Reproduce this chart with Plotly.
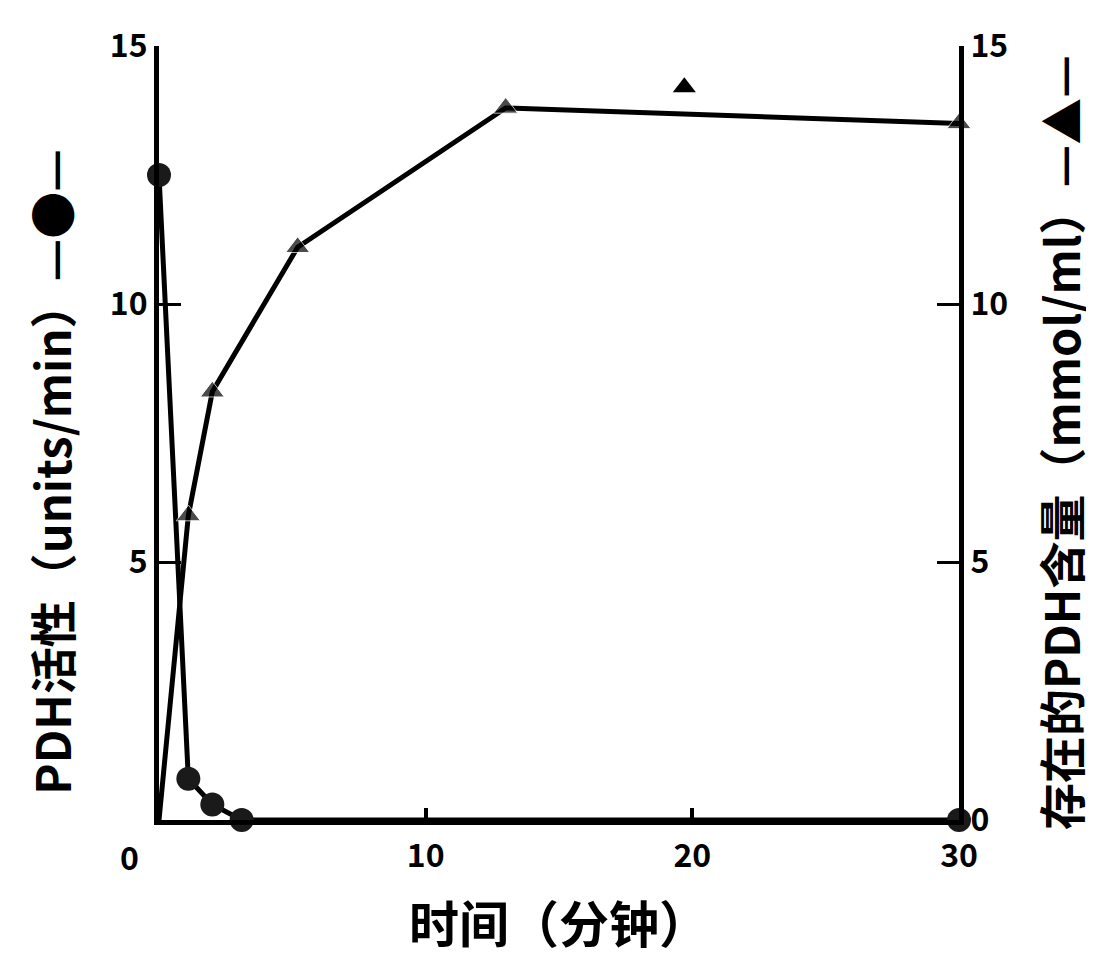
import plotly.graph_objects as go

# PDH activity (units/min), left axis, circles
act_time = [0, 1.1, 2.0, 3.1, 30]
act_vals = [12.5, 0.8, 0.3, 0.0, 0.0]

# PDH content present (mmol/ml), right axis, triangles
cont_time = [0, 1.1, 2.0, 5.2, 13.0, 30]
cont_vals = [0.0, 5.9, 8.3, 11.1, 13.8, 13.5]
cont_marker_sizes = [0, 21, 21, 21, 21, 21]

# isolated triangle mark near the top
stray_time = [19.7]
stray_vals = [14.2]

x_ticks = [10, 20, 30]
y_ticks = [5, 10, 15]
y2_ticks = [0, 5, 10, 15]

FONT = "Noto Sans CJK SC"

fig = go.Figure()
fig.add_trace(go.Scatter(
    x=cont_time, y=cont_vals, yaxis="y2", mode="lines+markers",
    line=dict(color="black", width=5),
    marker=dict(symbol="triangle-up", size=cont_marker_sizes, color="black"),
    showlegend=False, cliponaxis=False))
fig.add_trace(go.Scatter(
    x=stray_time, y=stray_vals, yaxis="y2", mode="markers",
    marker=dict(symbol="triangle-up", size=20, color="black"),
    showlegend=False, cliponaxis=False))
fig.add_trace(go.Scatter(
    x=act_time, y=act_vals, mode="lines+markers",
    line=dict(color="black", width=5),
    marker=dict(symbol="circle", size=24, color="#1a1a1a"),
    showlegend=False, cliponaxis=False))

tickfont = dict(family=FONT, size=32, color="black", weight="bold")
titlefont = dict(family=FONT, size=47, color="black", weight="bold")

fig.update_layout(
    width=1094, height=964,
    paper_bgcolor="white", plot_bgcolor="white",
    margin=dict(l=151, r=143, t=32, b=152),
    xaxis=dict(
        range=[0, 30], tickvals=x_ticks, ticks="inside", ticklen=12,
        tickwidth=4, tickcolor="black", showline=True, linewidth=5,
        linecolor="black", showgrid=False, zeroline=False,
        tickfont=tickfont, ticklabelstandoff=4,
        title=dict(text="时间（分钟）", font=dict(family=FONT, size=50, color="black", weight="bold"), standoff=34)),
    yaxis=dict(
        range=[0, 15], tickvals=y_ticks, ticks="inside", ticklen=22,
        tickwidth=3, tickcolor="black", showline=True, linewidth=5,
        linecolor="black", showgrid=False, zeroline=False,
        tickfont=tickfont),
    yaxis2=dict(
        range=[0, 15], tickvals=y2_ticks, overlaying="y", side="right",
        ticks="inside", ticklen=22, tickwidth=3, tickcolor="black",
        showline=True, linewidth=5, linecolor="black", showgrid=False,
        zeroline=False, tickfont=tickfont),
    annotations=[
        dict(x=0, y=0, xref="x", yref="y", text="0", showarrow=False,
             xshift=-30, yshift=-36, font=tickfont),
        dict(x=-0.135, y=0.45, xref="paper", yref="paper", textangle=-90,
             text="PDH活性（units/min）—●—", showarrow=False,
             xanchor="center", yanchor="middle", font=titlefont),
        dict(x=1.125, y=0.487, xref="paper", yref="paper", textangle=-90,
             text="存在的PDH含量（mmol/ml）—▲—", showarrow=False,
             xanchor="center", yanchor="middle", font=titlefont),
    ],
)

fig.write_html("out.html")
